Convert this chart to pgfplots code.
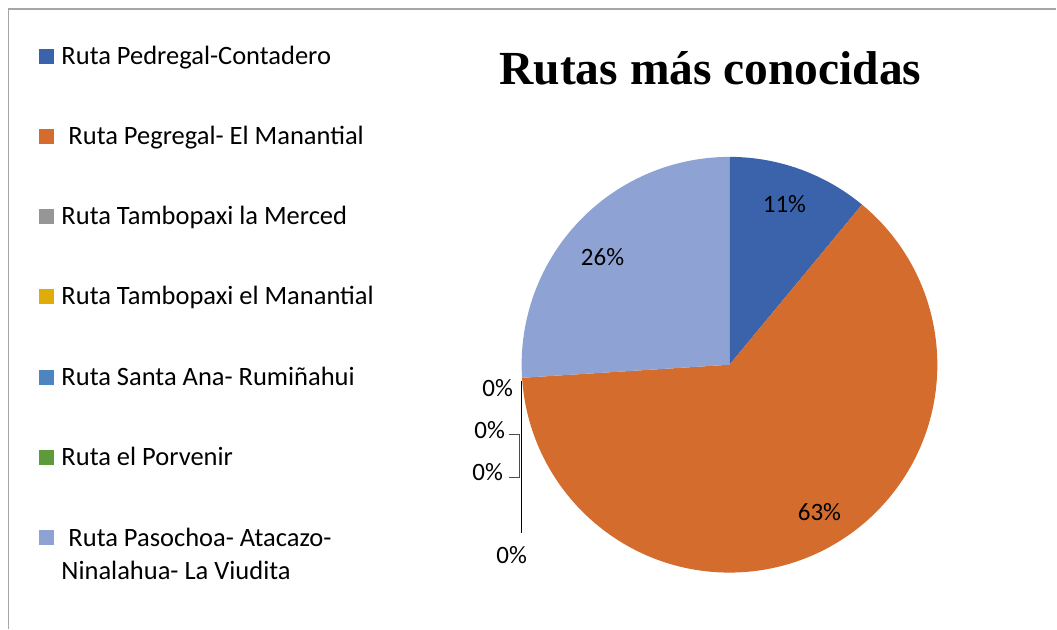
\documentclass[border=0pt]{standalone}
\usepackage{pgfplots}
\pgfplotsset{compat=1.18}
\usepackage{fontspec}
\setmainfont{Carlito}
\newfontfamily\titlefont{Liberation Serif}
\definecolor{pieA}{HTML}{3A63AC}
\definecolor{pieB}{HTML}{D36C2C}
\definecolor{pieC}{HTML}{969696}
\definecolor{pieD}{HTML}{E0AC0A}
\definecolor{pieE}{HTML}{4E84C0}
\definecolor{pieF}{HTML}{5C9A3A}
\definecolor{pieG}{HTML}{8FA2D4}
\definecolor{frame}{HTML}{A6A6A6}
\newcommand{\legfont}{\fontsize{26.5}{31}\selectfont}
\newcommand{\dlfont}{\fontsize{25}{30}\selectfont}
\begin{document}
\begin{tikzpicture}
\begin{axis}[scale only axis, width=1057pt, height=629pt,
  xmin=0, xmax=1057, ymin=0, ymax=629, hide axis, clip=false,
  every node/.style={inner sep=0pt}]
\path (axis cs:0,0) rectangle (axis cs:1057,629);
% frame
\draw[frame, line width=1.5pt] (axis cs:8.5,0) -- (axis cs:8.5,620) -- (axis cs:1057,620);
% pie: values in percent, clockwise from 12 o'clock
\gdef\cum{0}
\foreach \v/\c in {11/pieA, 63/pieB, 0/pieC, 0/pieD, 0/pieE, 0/pieF, 26/pieG} {
  \pgfmathsetmacro{\a}{90-3.6*\cum}
  \pgfmathsetmacro{\b}{90-3.6*(\cum+\v)}
  \ifdim\v pt>0pt
    \edef\temp{\noexpand\fill[\c] (axis cs:730,264) -- ([shift={(\a:208pt)}]axis cs:730,264) arc[start angle=\a, end angle=\b, radius=208pt] -- cycle;}
    \temp
  \fi
  \pgfmathsetmacro{\newcum}{\cum+\v}
  \xdef\cum{\newcum}
}
% leader lines
\draw[black, line width=1pt] (axis cs:522,248) -- (axis cs:522,96);
\draw[black!70, line width=0.8pt] (axis cs:509,194) -- (axis cs:520,194) -- (axis cs:520,151) -- (axis cs:509,151);
% data labels
\node at (axis cs:785,425) {\dlfont 11\%};
\node at (axis cs:603,372) {\dlfont 26\%};
\node at (axis cs:820,117) {\dlfont 63\%};
\node at (axis cs:498,241) {\dlfont 0\%};
\node at (axis cs:490,199) {\dlfont 0\%};
\node at (axis cs:488,157) {\dlfont 0\%};
\node at (axis cs:512,74) {\dlfont 0\%};
% title
\node[anchor=base] at (axis cs:711,544) {\titlefont\bfseries\fontsize{47.5}{56}\selectfont Rutas más conocidas};
% legend
\fill[pieA] (axis cs:39,565) rectangle (axis cs:54,580);
\node[anchor=base west] at (axis cs:58,564) {\legfont Ruta Pedregal-Contadero};
\fill[pieB] (axis cs:39,485) rectangle (axis cs:54,500);
\node[anchor=base west] at (axis cs:65,484) {\legfont Ruta Pegregal- El Manantial};
\fill[pieC] (axis cs:39,405) rectangle (axis cs:54,420);
\node[anchor=base west] at (axis cs:58,404) {\legfont Ruta Tambopaxi la Merced};
\fill[pieD] (axis cs:39,325) rectangle (axis cs:54,340);
\node[anchor=base west] at (axis cs:58,324) {\legfont Ruta Tambopaxi el Manantial};
\fill[pieE] (axis cs:39,244) rectangle (axis cs:54,259);
\node[anchor=base west] at (axis cs:58,243) {\legfont Ruta Santa Ana- Rumiñahui};
\fill[pieF] (axis cs:39,164) rectangle (axis cs:54,179);
\node[anchor=base west] at (axis cs:58,163) {\legfont Ruta el Porvenir};
\fill[pieG] (axis cs:39,84) rectangle (axis cs:54,99);
\node[anchor=base west] at (axis cs:65,82) {\legfont Ruta Pasochoa- Atacazo-};
\node[anchor=base west] at (axis cs:58,49) {\legfont Ninalahua- La Viudita};
\end{axis}
\end{tikzpicture}
\end{document}
